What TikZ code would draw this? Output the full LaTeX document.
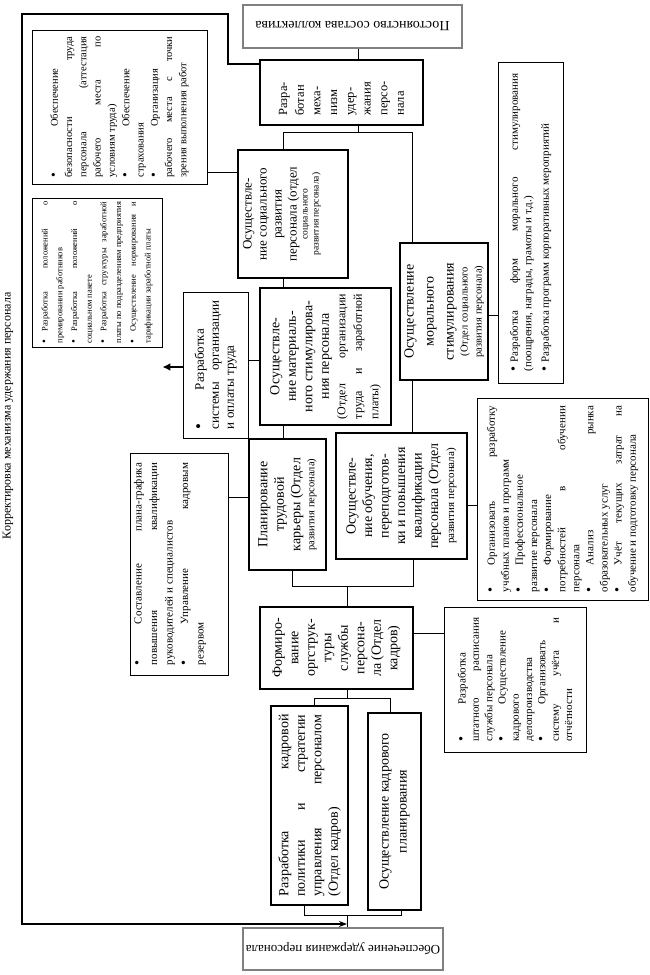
\documentclass[tikz,border=0pt]{standalone}
\usepackage{fontspec}
\setmainfont{Liberation Serif}
\usepackage{graphicx}
\usetikzlibrary{arrows.meta}
\hyphenpenalty=10000 \exhyphenpenalty=10000 \tolerance=10000 \hbadness=10000 \vbadness=10000 \emergencystretch=20pt
\newcommand{\rtx}[4][c]{\rotatebox{90}{\parbox[c][#3][#1]{#2}{#4}}}
\newcommand{\fsz}[2]{\fontsize{#1}{#2}\selectfont}
\newcommand{\bl}[1]{\scalebox{1.3}{\textbullet}\hspace{#1}}
\tikzset{
  mainbox/.style={draw, line width=2.6pt, inner sep=0pt},
  bulbox/.style={draw, line width=0.9pt, inner sep=0pt},
  endbox/.style={draw=black!50, line width=1.2pt, inner sep=0pt},
  conn/.style={line width=0.9pt},
}
\begin{document}
\begin{tikzpicture}[x=1pt,y={(0pt,-1pt)}]
\useasboundingbox (0,0) rectangle (650,975);

% end boxes
\node[endbox, minimum width=219pt, minimum height=43pt] (top) at (352.5,26.5) {\rotatebox{180}{\fsz{14}{16}Постоянство состава коллектива}};
\node[endbox, minimum width=200pt, minimum height=42pt] (bot) at (343,949) {\rotatebox{180}{\fsz{13}{15}Обеспечение удержания персонала}};
\node[rotate=90, font={\fsz{12}{14}}] (lbl) at (8,416) {Корректировка механизма удержания персонала};

% main boxes
\node[mainbox, minimum width=163pt, minimum height=65pt] (raz) at (341.5,92.5) {\rtx{46pt}{150pt}{\raggedright\fsz{12.5}{16.7}Разра-\\ботан\\меха-\\низм\\удер-\\жания\\персо-\\нала}};

\node[mainbox, minimum width=110pt, minimum height=128pt] (soc) at (293,214) {\rtx[t]{118pt}{100pt}{\centering\fsz{13}{15}Осуществле-\\ние социального\\развития\\персонала (отдел\par\fsz{9.5}{11}социального\\развития персонала)\par}};

\node[mainbox, minimum width=88pt, minimum height=137pt] (moral) at (444,311.5) {\rtx{128pt}{84pt}{\centering\fsz{14}{20}Осуществление\\морального\\стимулирования\par\fsz{10.5}{14}(Отдел социального\\развития персонала)\par}};

\node[mainbox, minimum width=131pt, minimum height=137pt] (mat) at (325.5,356.5) {\rtx{125pt}{124pt}{{\centering\fsz{14}{16.5}Осуществле-\\ние материаль-\\ного стимулирова-\\ния персонала\par}\fsz{12}{16.5}(Отдел организации\linebreak труда и заработной\linebreak платы)\par}};

\node[mainbox, minimum width=77pt, minimum height=131pt] (plan) at (287.5,504.5) {\rtx{120pt}{70pt}{\centering\fsz{14}{16.5}Планирование\\трудовой\\карьеры (Отдел\par\fsz{10.5}{14}развития персонала)\par}};

\node[mainbox, minimum width=131pt, minimum height=126pt] (obuch) at (401.5,496) {\rtx{114pt}{122pt}{\centering\fsz{14}{16.5}Осуществле-\\ние обучения,\\переподготов-\\ки и повышения\\квалификации\\персонала (Отдел\par\fsz{11}{16}развития персонала)\par}};

\node[mainbox, minimum width=153pt, minimum height=82pt] (formir) at (336.5,648) {\rtx{76pt}{145pt}{\centering\fsz{14}{16.5}Формиро-\\вание\\оргструк-\\туры\\службы\\персона-\\ла (Отдел\\кадров)}};

\node[mainbox, minimum width=77pt, minimum height=199pt] (polit) at (309.5,805.5) {\rtx{182pt}{70pt}{\fsz{14}{16.5}Разработка кадровой\linebreak политики и стратегии\linebreak управления персоналом\linebreak (Отдел кадров)\par}};

\node[mainbox, minimum width=53pt, minimum height=197pt] (kplan) at (394.5,811.5) {\rtx{182pt}{44pt}{\centering\fsz{14}{18}Осуществление кадрового\\планирования}};

% bullet boxes
\node[bulbox, minimum width=175pt, minimum height=154pt] (C) at (119.5,107) {\rtx{141pt}{148pt}{\fsz{10.5}{14.3}\bl{46pt}Обеспечение\newline безопасности труда\linebreak персонала (аттестация\linebreak рабочего места по\linebreak условиям труда)\par \bl{46pt}Обеспечение\newline страхования\par \bl{46pt}Организация\newline рабочего места с точки\linebreak зрения выполнения работ\par}};

\node[bulbox, minimum width=130pt, minimum height=149pt] (L) at (97,272.5) {\rtx{142pt}{124pt}{\fsz{8.5}{14.7}\bl{8pt}Разработка положений о\linebreak премировании работников\par \bl{8pt}Разработка положений о\linebreak социальном пакете\par \bl{8pt}Разработка структуры заработной\linebreak платы по подразделениям предприятия\par \bl{8pt}Осуществление нормирования и\linebreak тарификации заработной платы\par}};

\node[bulbox, minimum width=65pt, minimum height=146pt] (M) at (215.5,365) {\rtx{128pt}{50pt}{\fsz{13}{15}\bl{33pt}Разработка\newline системы организации\linebreak и оплаты труда\par}};

\node[bulbox, minimum width=98pt, minimum height=222pt] (N) at (179,564) {\rtx[t]{202pt}{90pt}{\fsz{11}{15.5}\bl{36pt}Составление плана-графика\linebreak повышения квалификации\linebreak руководителей и специалистов\par \bl{36pt}Управление кадровым\linebreak резервом\par}};

\node[bulbox, minimum width=171pt, minimum height=202pt] (O) at (562.5,499) {\rtx{186pt}{160pt}{\fsz{11}{14.1}\bl{22pt}Организовать разработку\linebreak учебных планов и программ\par \bl{22pt}Профессиональное\newline развитие персонала\par \bl{22pt}Формирование\newline потребностей в обучении\linebreak персонала\par \bl{22pt}Анализ рынка\linebreak образовательных услуг\par \bl{22pt}Учёт текущих затрат на\linebreak обучение и подготовку персонала\par}};

\node[bulbox, minimum width=65pt, minimum height=321pt] (P) at (530.5,222.5) {\rtx{298pt}{56pt}{\fsz{11}{13.5}\setlength{\parskip}{4pt}\bl{4pt}Разработка форм морального стимулирования\linebreak (поощрения, награды, грамоты и т.д.)\par \bl{4pt}Разработка программ корпоративных мероприятий\par}};

\node[bulbox, minimum width=142pt, minimum height=145pt] (Q) at (515,679.5) {\rtx{124pt}{130pt}{\fsz{11}{13.3}\bl{32pt}Разработка\newline штатного расписания\linebreak службы персонала\par \bl{32pt}Осуществление\newline кадрового\newline делопроизводства\par \bl{32pt}Организовать\newline систему учёта и\linebreak отчётности\par}};

% connectors
\coordinate (jn) at (347,924);
\draw[conn] (top.south -| 358,0) -- (raz.north -| 358,0);
\draw[conn] (raz.south -| 358,0) -- (358,132);
\draw[conn] (soc.north -| 283,0) |- (412,132) -- (moral.north -| 412,0);
\draw[line width=1.1pt, -{Stealth[length=8pt,width=6pt]}] (raz.west |- 0,64) -| (228,14) -| (22,924) -- (jn);
\draw[conn] (C.east |- 0,172) -- (soc.west |- 0,172);
\draw[conn] (moral.east |- 0,315) -- (P.west |- 0,315);
\draw[conn] (soc.south -| 283,0) -- (mat.north -| 283,0);
\draw[conn] (mat.south -| 283,0) -- (plan.north -| 283,0);
\draw[conn] (mat.west |- 0,360) -- (M.east |- 0,360);
\draw[line width=2.2pt, -{Latex[length=8pt,width=8pt]}] (M.west |- 0,367) -- (L.east |- 0,367);
\draw[conn] (moral.south -| 412,0) -- (obuch.north -| 412,0);
\draw[conn] (plan.west |- 0,497) -- (N.east |- 0,497);
\draw[conn] (obuch.east |- 0,505) -- (O.west |- 0,505);
\draw[conn] (plan.south -| 292,0) |- (413,586) -- (obuch.south -| 413,0);
\draw[conn] (347,586) -- (formir.north -| 347,0);
\draw[conn] (formir.east |- 0,633) -- (Q.west |- 0,633);
\draw[conn] (formir.south -| 347,0) -- (347,698);
\draw[conn] (polit.north -| 314,0) |- (390,698) -- (kplan.north -| 390,0);
\draw[conn] (polit.south -| 304,0) |- (401,915) -- (kplan.south -| 401,0);
\draw[conn] (347,915) -- (bot.north -| 347,0);
\end{tikzpicture}
\end{document}
